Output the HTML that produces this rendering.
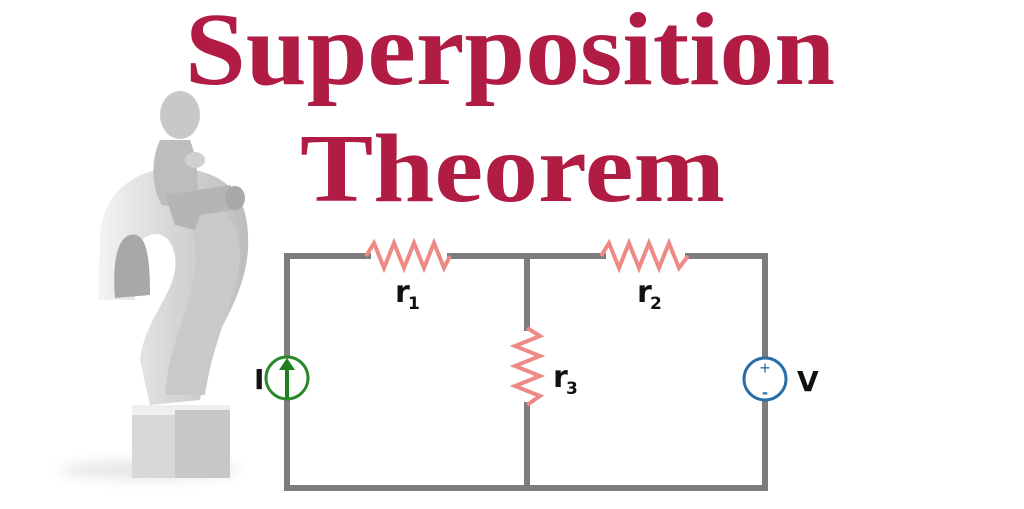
<!DOCTYPE html>
<html><head><meta charset="utf-8"><style>
html,body{margin:0;padding:0;background:#fff;}
svg{display:block;}
</style></head><body>
<svg width="1024" height="509" viewBox="0 0 1024 509" xmlns="http://www.w3.org/2000/svg">
<defs>
<linearGradient id="qg" x1="0" x2="1" y1="0" y2="0">
<stop offset="0" stop-color="#f4f4f4"/><stop offset="0.5" stop-color="#d6d6d6"/><stop offset="1" stop-color="#bdbdbd"/>
</linearGradient>
<filter id="bl" x="-50%" y="-50%" width="200%" height="200%"><feGaussianBlur stdDeviation="6"/></filter>
</defs>
<rect width="1024" height="509" fill="#fff"/>
<text x="185" y="84" font-family="Liberation Serif, serif" font-weight="bold" font-size="104" fill="#b01c44" textLength="650" lengthAdjust="spacingAndGlyphs">Superposition</text>
<text x="300" y="201" font-family="Liberation Serif, serif" font-weight="bold" font-size="98" fill="#b01c44" textLength="425" lengthAdjust="spacingAndGlyphs">Theorem</text>

<ellipse cx="150" cy="470" rx="90" ry="10" fill="#e8e8e8" filter="url(#bl)"/>
<path d="M100,240 C100,185 150,160 195,170 C240,180 250,210 248,250 C245,290 225,320 210,350 L200,400 L150,405 L140,360 C145,320 170,300 175,270 C178,245 165,230 150,235 C135,240 132,260 135,300 L98,300 Z" fill="url(#qg)"/>
<path d="M115,298 C112,260 118,238 130,235 C145,232 150,250 150,295 Z" fill="#a8a8a8"/>
<path d="M175,200 C215,195 240,215 240,255 C238,300 215,330 205,395 L165,395 C170,340 190,310 195,270 C198,240 190,215 175,200Z" fill="#c9c9c9"/>
<rect x="132" y="410" width="98" height="68" fill="#d8d8d8"/>
<rect x="132" y="405" width="98" height="10" fill="#efefef"/>
<rect x="175" y="410" width="55" height="68" fill="#c7c7c7"/>
<ellipse cx="180" cy="115" rx="20" ry="24" fill="#c8c8c8"/>
<path d="M160,140 C150,160 152,190 162,205 L195,210 C200,190 198,160 190,140 Z" fill="#bdbdbd"/>
<path d="M165,195 L230,185 L242,200 L232,210 L200,215 L195,230 L175,225 Z" fill="#b5b5b5"/>
<ellipse cx="235" cy="198" rx="10" ry="12" fill="#a9a9a9"/>
<ellipse cx="195" cy="160" rx="10" ry="8" fill="#d0d0d0"/>

<g stroke="#7d7d7d" stroke-width="6" fill="none" stroke-linecap="square">
<path d="M368,256 L287,256 L287,488 L765,488 L765,398"/>
<path d="M765,359 L765,256 L688,256"/>
<path d="M450,256 L603,256"/>
<path d="M527,256 L527,328"/>
<path d="M527,405 L527,488"/>
</g>
<g stroke="#ee8a86" stroke-width="4" fill="none">
<path d="M366,256 L374,243 L384,268 L394,243 L404,268 L414,243 L424,268 L434,243 L444,268 L450,256"/>
<path d="M601,256 L609,243 L619,268 L629,243 L639,268 L649,243 L659,268 L669,243 L679,268 L688,256"/>
<path d="M527,328 L540,336 L515,346 L540,356 L515,366 L540,376 L515,386 L540,396 L527,405"/>
</g>
<circle cx="287" cy="378" r="21" fill="#fff" stroke="#2a8a2a" stroke-width="3"/>
<line x1="287" y1="398" x2="287" y2="366" stroke="#1f7f1f" stroke-width="4"/>
<polygon points="279,370 295,370 287,358" fill="#1f7f1f"/>
<circle cx="765" cy="379" r="21" fill="#fff" stroke="#2a6ea8" stroke-width="3"/>
<text x="765" y="374" font-family="Liberation Sans, sans-serif" font-size="18" fill="#2a6ea8" text-anchor="middle">+</text>
<text x="765" y="398" font-family="Liberation Sans, sans-serif" font-size="18" font-weight="bold" fill="#2a6ea8" text-anchor="middle">-</text>
<g font-family="DejaVu Sans, Liberation Sans, sans-serif" fill="#111" font-weight="bold">
<text x="254" y="389" font-size="28">I</text>
<text x="797" y="391" font-size="28">V</text>
<text x="395" y="302" font-size="30">r</text><text x="408" y="309" font-size="17">1</text>
<text x="637" y="302" font-size="30">r</text><text x="650" y="309" font-size="17">2</text>
<text x="553" y="387" font-size="30">r</text><text x="566" y="394" font-size="17">3</text>
</g>
</svg>
</body></html>
